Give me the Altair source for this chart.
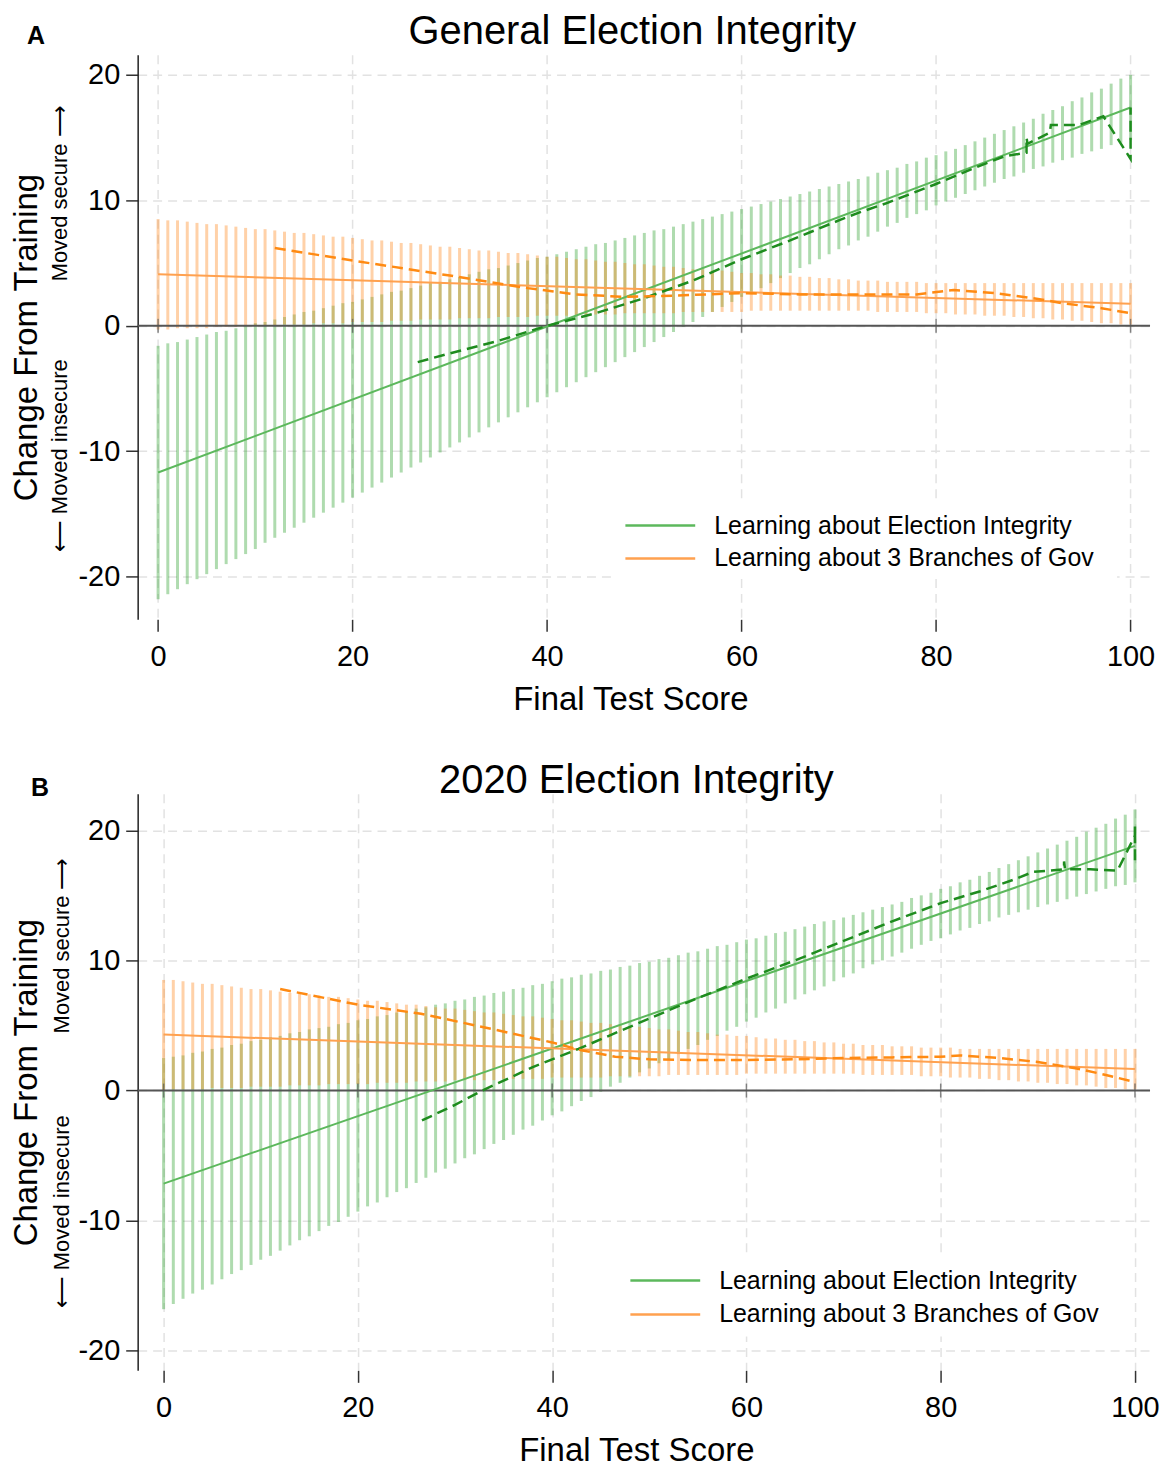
import altair as alt
import pandas as pd

FONT = "Liberation Sans"
SERIES = ["Learning about Election Integrity", "Learning about 3 Branches of Gov"]

# bar positions (final test score) of the confidence-interval spikes
SCORES = list(range(0, 101))
FIT_X = [0, 100]
TICKS_X = [0, 20, 40, 60, 80, 100]
TICKS_Y = [-20, -10, 0, 10, 20]

# ---------------- Panel A: General Election Integrity ----------------
A_GREEN_FIT = [-11.7, 17.4]
A_ORANGE_FIT = [4.1, 1.75]

A_GREEN_LO = [-21.8, -21.4, -21.0, -20.6, -20.2, -19.8, -19.4, -19.0, -18.6, -18.2,
              -17.8, -17.3, -16.9, -16.5, -16.1, -15.7, -15.3, -14.9, -14.5, -14.1,
              -13.7, -13.3, -12.9, -12.5, -12.1, -11.7, -11.3, -10.9, -10.5, -10.1,
              -9.7, -9.3, -8.9, -8.5, -8.1, -7.7, -7.3, -6.9, -6.5, -6.1,
              -5.7, -5.3, -4.9, -4.5, -4.1, -3.7, -3.3, -2.9, -2.5, -2.1,
              -1.7, -1.3, -0.9, -0.5, -0.1, 0.3, 0.7, 1.1, 1.5, 1.9,
              2.3, 2.6, 3.0, 3.4, 3.8, 4.2, 4.6, 4.9, 5.3, 5.7,
              6.1, 6.4, 6.8, 7.1, 7.5, 7.9, 8.2, 8.6, 8.9, 9.2,
              9.6, 9.9, 10.2, 10.5, 10.8, 11.1, 11.4, 11.7, 11.9, 12.2,
              12.5, 12.7, 13.0, 13.2, 13.4, 13.7, 13.9, 14.1, 14.4, 14.6,
              14.8]
A_GREEN_HI = [-1.6, -1.4, -1.3, -1.1, -0.9, -0.7, -0.5, -0.4, -0.2, 0.0,
              0.2, 0.3, 0.5, 0.7, 0.9, 1.1, 1.2, 1.4, 1.6, 1.8,
              1.9, 2.1, 2.3, 2.5, 2.7, 2.8, 3.0, 3.2, 3.4, 3.5,
              3.7, 3.9, 4.1, 4.3, 4.5, 4.6, 4.8, 5.0, 5.2, 5.4,
              5.5, 5.7, 5.9, 6.1, 6.3, 6.5, 6.6, 6.8, 7.0, 7.2,
              7.4, 7.6, 7.7, 7.9, 8.1, 8.3, 8.5, 8.7, 8.9, 9.1,
              9.3, 9.5, 9.7, 9.9, 10.1, 10.3, 10.5, 10.7, 10.9, 11.1,
              11.3, 11.5, 11.7, 11.9, 12.2, 12.4, 12.6, 12.9, 13.1, 13.4,
              13.6, 13.9, 14.1, 14.4, 14.7, 15.0, 15.3, 15.6, 15.9, 16.2,
              16.5, 16.9, 17.2, 17.5, 17.9, 18.2, 18.6, 18.9, 19.3, 19.7,
              20.0]
A_ORANGE_LO = [-0.3, -0.3, -0.2, -0.2, -0.2, -0.2, -0.1, -0.1, -0.1, 0.0,
               0.0, 0.0, 0.0, 0.1, 0.1, 0.1, 0.2, 0.2, 0.2, 0.2,
               0.3, 0.3, 0.3, 0.3, 0.4, 0.4, 0.4, 0.5, 0.5, 0.5,
               0.5, 0.6, 0.6, 0.6, 0.6, 0.7, 0.7, 0.7, 0.7, 0.8,
               0.8, 0.8, 0.8, 0.8, 0.9, 0.9, 0.9, 0.9, 1.0, 1.0,
               1.0, 1.0, 1.0, 1.0, 1.1, 1.1, 1.1, 1.1, 1.1, 1.1,
               1.1, 1.2, 1.2, 1.2, 1.2, 1.2, 1.2, 1.2, 1.2, 1.2,
               1.2, 1.2, 1.2, 1.2, 1.1, 1.1, 1.1, 1.1, 1.1, 1.0,
               1.0, 1.0, 0.9, 0.9, 0.9, 0.8, 0.8, 0.8, 0.7, 0.7,
               0.6, 0.6, 0.5, 0.5, 0.4, 0.4, 0.3, 0.2, 0.2, 0.1,
               0.1]
A_ORANGE_HI = [8.5, 8.4, 8.4, 8.3, 8.2, 8.1, 8.1, 8.0, 7.9, 7.8,
               7.7, 7.7, 7.6, 7.5, 7.4, 7.4, 7.3, 7.2, 7.1, 7.1,
               7.0, 6.9, 6.8, 6.8, 6.7, 6.6, 6.6, 6.5, 6.4, 6.3,
               6.3, 6.2, 6.1, 6.0, 6.0, 5.9, 5.8, 5.8, 5.7, 5.6,
               5.5, 5.5, 5.4, 5.3, 5.3, 5.2, 5.1, 5.1, 5.0, 4.9,
               4.9, 4.8, 4.7, 4.7, 4.6, 4.5, 4.5, 4.4, 4.4, 4.3,
               4.2, 4.2, 4.1, 4.1, 4.0, 4.0, 3.9, 3.9, 3.8, 3.8,
               3.7, 3.7, 3.6, 3.6, 3.6, 3.5, 3.5, 3.5, 3.5, 3.4,
               3.4, 3.4, 3.4, 3.4, 3.4, 3.4, 3.4, 3.4, 3.4, 3.4,
               3.4, 3.4, 3.4, 3.4, 3.4, 3.4, 3.4, 3.4, 3.4, 3.4,
               3.4]
A_GREEN_SMOOTH_X = [26.7, 30, 35, 40, 45, 50, 55, 60, 65, 70, 72, 75, 80, 84, 87,
                    89.3, 89.3, 89.4, 91.7, 91.8, 94.7, 97.2, 100, 100]
A_GREEN_SMOOTH_Y = [-2.9, -2.2, -1.2, 0.0, 1.0, 2.2, 3.6, 5.3, 6.8, 8.4, 9.0, 9.8, 11.3, 12.6, 13.5,
                    13.8, 15.0, 14.5, 15.4, 16.0, 16.0, 16.7, 13.3, 17.4]
A_ORANGE_SMOOTH_X = [12, 20, 30, 38, 43, 48, 53, 60, 66, 72, 78, 81.8, 86, 90, 93, 97, 100]
A_ORANGE_SMOOTH_Y = [6.2, 5.2, 4.0, 3.0, 2.5, 2.3, 2.4, 2.6, 2.5, 2.5, 2.5, 2.85, 2.6, 2.2, 1.8, 1.4, 1.0]

# ---------------- Panel B: 2020 Election Integrity ----------------
B_GREEN_FIT = [-7.15, 18.8]
B_ORANGE_FIT = [4.3, 1.65]

B_GREEN_LO = [-16.8, -16.4, -16.0, -15.6, -15.3, -14.9, -14.5, -14.1, -13.8, -13.4,
              -13.0, -12.7, -12.3, -11.9, -11.5, -11.2, -10.8, -10.4, -10.1, -9.7,
              -9.3, -8.9, -8.6, -8.2, -7.8, -7.5, -7.1, -6.7, -6.3, -6.0,
              -5.6, -5.2, -4.9, -4.5, -4.1, -3.8, -3.4, -3.0, -2.7, -2.3,
              -1.9, -1.6, -1.2, -0.8, -0.5, -0.1, 0.3, 0.6, 1.0, 1.4,
              1.7, 2.1, 2.4, 2.8, 3.2, 3.5, 3.9, 4.2, 4.6, 4.9,
              5.3, 5.6, 6.0, 6.3, 6.7, 7.0, 7.4, 7.7, 8.0, 8.4,
              8.7, 9.0, 9.4, 9.7, 10.0, 10.3, 10.6, 10.9, 11.2, 11.5,
              11.7, 12.0, 12.3, 12.5, 12.8, 13.0, 13.3, 13.5, 13.7, 13.9,
              14.1, 14.3, 14.5, 14.7, 14.9, 15.1, 15.3, 15.5, 15.7, 15.8,
              16.0]
B_GREEN_HI = [2.5, 2.6, 2.7, 2.9, 3.0, 3.2, 3.3, 3.5, 3.6, 3.8,
              3.9, 4.1, 4.2, 4.4, 4.5, 4.7, 4.8, 4.9, 5.1, 5.2,
              5.4, 5.5, 5.7, 5.8, 6.0, 6.1, 6.3, 6.4, 6.6, 6.7,
              6.9, 7.0, 7.2, 7.3, 7.5, 7.6, 7.8, 7.9, 8.1, 8.2,
              8.4, 8.6, 8.7, 8.9, 9.0, 9.2, 9.3, 9.5, 9.6, 9.8,
              9.9, 10.1, 10.2, 10.4, 10.6, 10.7, 10.9, 11.1, 11.2, 11.4,
              11.6, 11.7, 11.9, 12.1, 12.2, 12.4, 12.6, 12.8, 13.0, 13.1,
              13.3, 13.5, 13.7, 13.9, 14.1, 14.3, 14.5, 14.8, 15.0, 15.2,
              15.5, 15.7, 16.0, 16.2, 16.5, 16.8, 17.1, 17.4, 17.7, 18.0,
              18.3, 18.6, 18.9, 19.2, 19.5, 19.9, 20.2, 20.5, 20.9, 21.2,
              21.6]
B_ORANGE_LO = [0.0, 0.1, 0.1, 0.1, 0.1, 0.2, 0.2, 0.2, 0.2, 0.3,
               0.3, 0.3, 0.3, 0.4, 0.4, 0.4, 0.4, 0.5, 0.5, 0.5,
               0.5, 0.5, 0.6, 0.6, 0.6, 0.6, 0.7, 0.7, 0.7, 0.7,
               0.8, 0.8, 0.8, 0.8, 0.8, 0.9, 0.9, 0.9, 0.9, 0.9,
               1.0, 1.0, 1.0, 1.0, 1.0, 1.0, 1.1, 1.1, 1.1, 1.1,
               1.1, 1.1, 1.2, 1.2, 1.2, 1.2, 1.2, 1.2, 1.2, 1.2,
               1.3, 1.3, 1.3, 1.3, 1.3, 1.3, 1.3, 1.3, 1.3, 1.3,
               1.3, 1.3, 1.2, 1.2, 1.2, 1.2, 1.2, 1.2, 1.1, 1.1,
               1.1, 1.0, 1.0, 1.0, 0.9, 0.9, 0.8, 0.8, 0.7, 0.7,
               0.6, 0.6, 0.5, 0.5, 0.4, 0.4, 0.3, 0.2, 0.2, 0.1,
               0.1]
B_ORANGE_HI = [8.5, 8.5, 8.4, 8.3, 8.2, 8.2, 8.1, 8.0, 7.9, 7.8,
               7.8, 7.7, 7.6, 7.5, 7.5, 7.4, 7.3, 7.2, 7.2, 7.1,
               7.0, 6.9, 6.9, 6.8, 6.7, 6.6, 6.6, 6.5, 6.4, 6.3,
               6.3, 6.2, 6.1, 6.0, 6.0, 5.9, 5.8, 5.7, 5.7, 5.6,
               5.5, 5.4, 5.4, 5.3, 5.2, 5.2, 5.1, 5.0, 4.9, 4.9,
               4.8, 4.7, 4.7, 4.6, 4.5, 4.5, 4.4, 4.3, 4.3, 4.2,
               4.2, 4.1, 4.0, 4.0, 3.9, 3.9, 3.8, 3.8, 3.7, 3.7,
               3.6, 3.6, 3.5, 3.5, 3.5, 3.4, 3.4, 3.4, 3.3, 3.3,
               3.3, 3.3, 3.2, 3.2, 3.2, 3.2, 3.2, 3.2, 3.2, 3.2,
               3.2, 3.2, 3.2, 3.2, 3.2, 3.2, 3.2, 3.2, 3.2, 3.2,
               3.2]
B_GREEN_SMOOTH_X = [26.6, 30, 32.8, 38, 42.7, 48, 54, 60, 65, 70, 75, 80, 84, 87.5, 89.5,
                    92.7, 92.7, 92.8, 95.4, 98.2, 100, 100, 100]
B_GREEN_SMOOTH_Y = [-2.3, -1.1, 0.0, 1.8, 3.2, 4.9, 6.8, 8.6, 10.0, 11.5, 13.0, 14.4, 15.3, 16.2, 16.8,
                    17.0, 17.6, 17.0, 17.0, 16.9, 19.6, 20.3, 17.6]
B_ORANGE_SMOOTH_X = [12, 20, 26.5, 34, 40, 43, 46.5, 50, 55, 60, 65, 70, 75, 80, 82, 86, 90, 94, 97, 100]
B_ORANGE_SMOOTH_Y = [7.8, 6.6, 5.9, 4.7, 3.7, 3.1, 2.6, 2.4, 2.35, 2.35, 2.4, 2.5, 2.55, 2.6, 2.7, 2.5,
                     2.2, 1.7, 1.2, 0.65]

# ---------------- styling ----------------
GREEN_CI = "#2ca02c"
ORANGE_CI = "#ff7f0e"
GREEN_FIT = "#5cb85c"
ORANGE_FIT = "#ffa14f"
GREEN_DASH = "#1e8c1e"
ORANGE_DASH = "#ff8a12"
AXIS_DARK = "#333333"
ZERO_LINE = "#555555"
PLOT_W = 1015


def panel(title, title_xy, xdomain, ydomain, height, xtitle_x,
          g_lo, g_hi, o_lo, o_hi, g_fit, o_fit,
          gs_x, gs_y, os_x, os_y,
          letter, letter_xy, note_x, secure_y, insecure_y, leg):
    xs = alt.Scale(domain=xdomain, nice=False, zero=False)
    ys = alt.Scale(domain=ydomain, nice=False, zero=False)
    x_ax = alt.Axis(values=TICKS_X, title="Final Test Score", domain=False,
                    tickSize=12, tickColor=AXIS_DARK, tickWidth=1.5,
                    labelFontSize=29, labelFont=FONT, labelColor="black",
                    labelPadding=11, labelFlush=False, labelExpr="'' + datum.value",
                    titleFontSize=33, titleFont=FONT, titleColor="black",
                    titleFontWeight="normal", titlePadding=12, titleX=xtitle_x,
                    grid=True, gridColor="#e2e2e2", gridDash=[9, 6], gridWidth=1.5)
    y_ax = alt.Axis(values=TICKS_Y, title="Change From Training", domain=True,
                    domainColor="#222222", domainWidth=1.5,
                    tickSize=12, tickColor=AXIS_DARK, tickWidth=1.5,
                    labelFontSize=29, labelFont=FONT, labelColor="black",
                    labelPadding=6, labelFlush=False, labelExpr="'' + datum.value",
                    titleFontSize=33, titleFont=FONT, titleColor="black",
                    titleFontWeight="normal", titlePadding=35,
                    grid=True, gridColor="#e2e2e2", gridDash=[9, 6], gridWidth=1.5)

    def X(f):
        return alt.X(f, type="quantitative", scale=xs, axis=x_ax)

    def Y(f):
        return alt.Y(f, type="quantitative", scale=ys, axis=y_ax)

    one = pd.DataFrame({"k": [0]})

    ci_g = alt.Chart(pd.DataFrame({"x": SCORES, "lo": g_lo, "hi": g_hi})).mark_rule(
        color=GREEN_CI, strokeWidth=3, opacity=0.38).encode(x=X("x"), y=Y("lo"), y2=alt.Y2("hi"))
    ci_o = alt.Chart(pd.DataFrame({"x": SCORES, "lo": o_lo, "hi": o_hi})).mark_rule(
        color=ORANGE_CI, strokeWidth=3, opacity=0.36).encode(x=X("x"), y=Y("lo"), y2=alt.Y2("hi"))

    zero = alt.Chart(one).mark_rule(color=ZERO_LINE, strokeWidth=2).encode(y=alt.datum(0))
    zero_ticks = alt.Chart(pd.DataFrame({"x": TICKS_X})).mark_tick(
        orient="vertical", size=14, thickness=1.5, color=ZERO_LINE).encode(x=X("x"), y=alt.datum(0))

    fit_df = pd.DataFrame({"x": FIT_X + FIT_X, "y": g_fit + o_fit,
                           "series": [SERIES[0]] * 2 + [SERIES[1]] * 2})
    fit = alt.Chart(fit_df).mark_line(strokeWidth=2).encode(
        x=X("x"), y=Y("y"),
        color=alt.Color("series:N", scale=alt.Scale(domain=SERIES, range=[GREEN_FIT, ORANGE_FIT]),
                        legend=None))

    dash_g = alt.Chart(pd.DataFrame({"x": gs_x, "y": gs_y, "i": list(range(len(gs_x)))})).mark_line(
        color=GREEN_DASH, strokeWidth=2.5, strokeDash=[11, 6]).encode(x=X("x"), y=Y("y"), order="i:Q")
    dash_o = alt.Chart(pd.DataFrame({"x": os_x, "y": os_y, "i": list(range(len(os_x)))})).mark_line(
        color=ORANGE_DASH, strokeWidth=2.5, strokeDash=[11, 6]).encode(x=X("x"), y=Y("y"), order="i:Q")

    # legend (inside plot, bottom right)
    bx1, bx2, by1, by2 = leg["box"]
    sx1, sx2 = leg["swatch"]
    lx = leg["label_x"]
    r1, r2 = leg["rows"]
    leg_box = alt.Chart(one).mark_rect(color="white").encode(
        x=alt.value(bx1), x2=alt.value(bx2), y=alt.value(by1), y2=alt.value(by2))
    leg_l1 = alt.Chart(one).mark_rule(color=GREEN_FIT, strokeWidth=2.5).encode(
        x=alt.value(sx1), x2=alt.value(sx2), y=alt.value(r1))
    leg_l2 = alt.Chart(one).mark_rule(color=ORANGE_FIT, strokeWidth=2.5).encode(
        x=alt.value(sx1), x2=alt.value(sx2), y=alt.value(r2))
    leg_t1 = alt.Chart(pd.DataFrame({"t": [SERIES[0]]})).mark_text(
        align="left", baseline="middle", fontSize=25, font=FONT, color="black").encode(
        x=alt.value(lx), y=alt.value(r1), text="t:N")
    leg_t2 = alt.Chart(pd.DataFrame({"t": [SERIES[1]]})).mark_text(
        align="left", baseline="middle", fontSize=25, font=FONT, color="black").encode(
        x=alt.value(lx), y=alt.value(r2), text="t:N")

    ttl = alt.Chart(pd.DataFrame({"t": [title]})).mark_text(
        fontSize=40, font=FONT, color="black", align="center", baseline="middle").encode(
        x=alt.value(title_xy[0]), y=alt.value(title_xy[1]), text="t:N")
    let = alt.Chart(pd.DataFrame({"t": [letter]})).mark_text(
        fontSize=25, fontWeight="bold", font=FONT, color="black", align="center", baseline="middle").encode(
        x=alt.value(letter_xy[0]), y=alt.value(letter_xy[1]), text="t:N")
    sec = alt.Chart(pd.DataFrame({"t": ["Moved secure \u27f6"]})).mark_text(
        fontSize=22, font=FONT, color="black", angle=270, align="center", baseline="middle").encode(
        x=alt.value(note_x), y=alt.value(secure_y), text="t:N")
    insec = alt.Chart(pd.DataFrame({"t": ["\u27f5 Moved insecure"]})).mark_text(
        fontSize=22, font=FONT, color="black", angle=270, align="center", baseline="middle").encode(
        x=alt.value(note_x), y=alt.value(insecure_y), text="t:N")

    return alt.layer(ci_g, ci_o, zero, zero_ticks, fit, dash_g, dash_o,
                     leg_box, leg_l1, leg_l2, leg_t1, leg_t2, ttl, let, sec, insec).properties(
        width=PLOT_W, height=height)


panel_a = panel("General Election Integrity", (496, -23), [-2.1, 102], [-23.4, 21.6], 566, 494,
                A_GREEN_LO, A_GREEN_HI, A_ORANGE_LO, A_ORANGE_HI, A_GREEN_FIT, A_ORANGE_FIT,
                A_GREEN_SMOOTH_X, A_GREEN_SMOOTH_Y, A_ORANGE_SMOOTH_X, A_ORANGE_SMOOTH_Y,
                "A", (-102, -19), -78, 139, 402,
                {"box": (479, 982, 450, 525), "swatch": (489, 559), "label_x": 578, "rows": (472, 505)})

panel_b = panel("2020 Election Integrity", (500, -13), [-2.67, 101.55], [-21.5, 22.8], 578, 500,
                B_GREEN_LO, B_GREEN_HI, B_ORANGE_LO, B_ORANGE_HI, B_GREEN_FIT, B_ORANGE_FIT,
                B_GREEN_SMOOTH_X, B_GREEN_SMOOTH_Y, B_ORANGE_SMOOTH_X, B_ORANGE_SMOOTH_Y,
                "B", (-98, -6), -76, 152, 419,
                {"box": (484, 987, 465, 544), "swatch": (494, 564), "label_x": 583, "rows": (488, 522)})

chart = alt.vconcat(panel_a, panel_b, spacing=45).properties(
    padding={"left": 2, "top": 2, "right": 0, "bottom": 0}
).configure(font=FONT, background="white").configure_view(stroke=None)

chart.save("out.html", embed_options={"renderer": "svg", "actions": False})
